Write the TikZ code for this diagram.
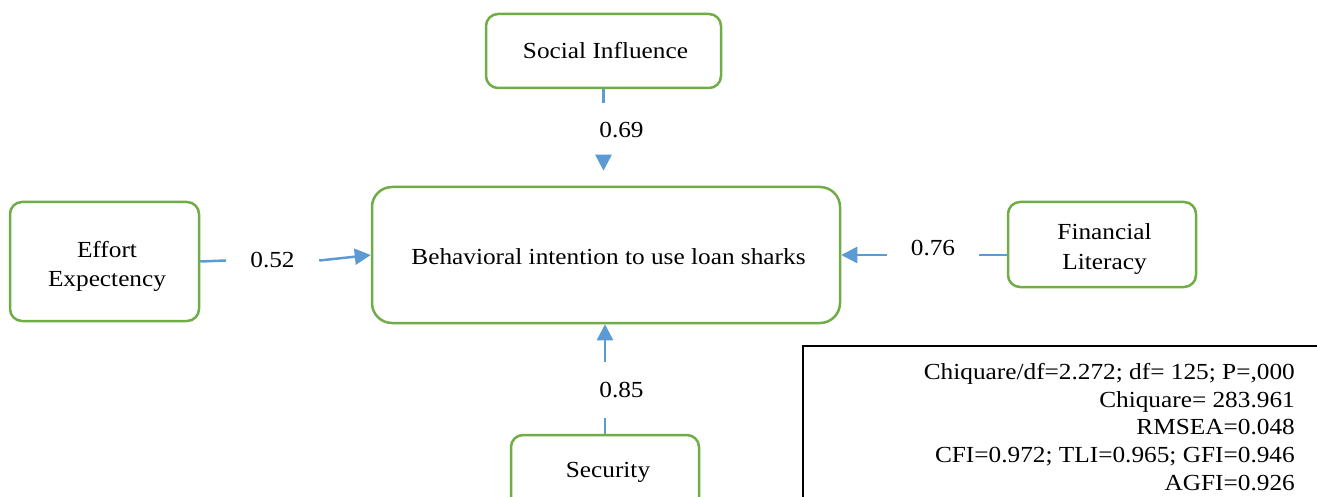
\documentclass[tikz,border=0pt]{standalone}
\usepackage{fontspec}
\setmainfont{Liberation Serif}[FakeStretch=1.1]
\usetikzlibrary{arrows.meta}
\definecolor{boxgreen}{HTML}{70AD47}
\definecolor{linkblue}{HTML}{5B9BD5}
\tikzset{
  box/.style={draw=boxgreen, line width=2.5pt, rounded corners=12pt, align=center, inner sep=0pt},
  bigbox/.style={box, rounded corners=20pt},
  txt/.style={align=center, inner sep=0pt},
  conn/.style={draw=linkblue, line width=2.5pt},
  arr/.style={conn, -{Triangle[length=16pt,width=16pt]}},
  hlab/.style={inner sep=0pt, minimum height=22pt},
  vlab/.style={inner sep=0pt, minimum width=45pt},
  stats/.style={align=right, inner sep=0pt, anchor=north east, font={\fontsize{23}{27.7}\selectfont}}
}
\begin{document}
\begin{tikzpicture}[x=1pt,y=-1pt]
\fontsize{23}{29.5}\selectfont
\useasboundingbox (0,0) rectangle (1317,497);
\begin{scope}
\clip (0,0) rectangle (1317,497);
% nodes
\node[box, minimum width=235pt, minimum height=74pt] (si) at (603.5,51) {};
\node[txt] (sit) at (605.5,51) {Social Influence};
\node[bigbox, minimum width=468pt, minimum height=136pt] (bi) at (606,255) {};
\node[txt] (bit) at (608.5,257) {Behavioral intention to use loan sharks};
\node[box, minimum width=189pt, minimum height=119pt] (ee) at (104.5,261.5) {};
\node[txt] (eet) at (107,266.5) {Effort\\Expectency};
\node[box, minimum width=188pt, minimum height=85pt] (fl) at (1102,244.5) {};
\node[txt] (flt) at (1104.5,249) {Financial\\Literacy};
\node[box, minimum width=188pt, minimum height=124pt] (sec) at (605,497) {};
\node[txt] (sect) at (608,472) {Security};
% labels
\node[vlab, minimum height=53pt] (l69) at (621.5,130) {0.69};
\node[vlab, minimum height=55pt] (l85) at (621.5,390) {0.85};
\node[hlab, minimum width=93pt] (l52) at (272.5,260.5) {0.52};
\node[hlab, minimum width=92pt] (l76) at (933,248) {0.76};
% connectors
\draw[conn] (si.south) -- (si.south |- l69.north);
\draw[arr] (si.south |- l69.south) -- ([yshift=15pt]si.south |- bi.north);
\draw[conn] (sec.north) -- (sec.north |- l85.south);
\draw[arr] (sec.north |- l85.north) -- (sec.north |- bi.south);
\draw[conn] (ee.east) -- (l52.west);
\draw[arr] (l52.east) -- (bi.west);
\draw[conn] (fl.west |- bi.east) -- (l76.east |- bi.east);
\draw[arr] (l76.west |- bi.east) -- (bi.east);
% stats box
\draw[black, line width=1.3pt] (803,346) rectangle (1345,530);
\node[stats] (st) at (1295,363) {Chiquare/df=2.272; df= 125; P=,000\\Chiquare= 283.961\\RMSEA=0.048\\CFI=0.972; TLI=0.965; GFI=0.946\\AGFI=0.926};
\end{scope}
\end{tikzpicture}
\end{document}
